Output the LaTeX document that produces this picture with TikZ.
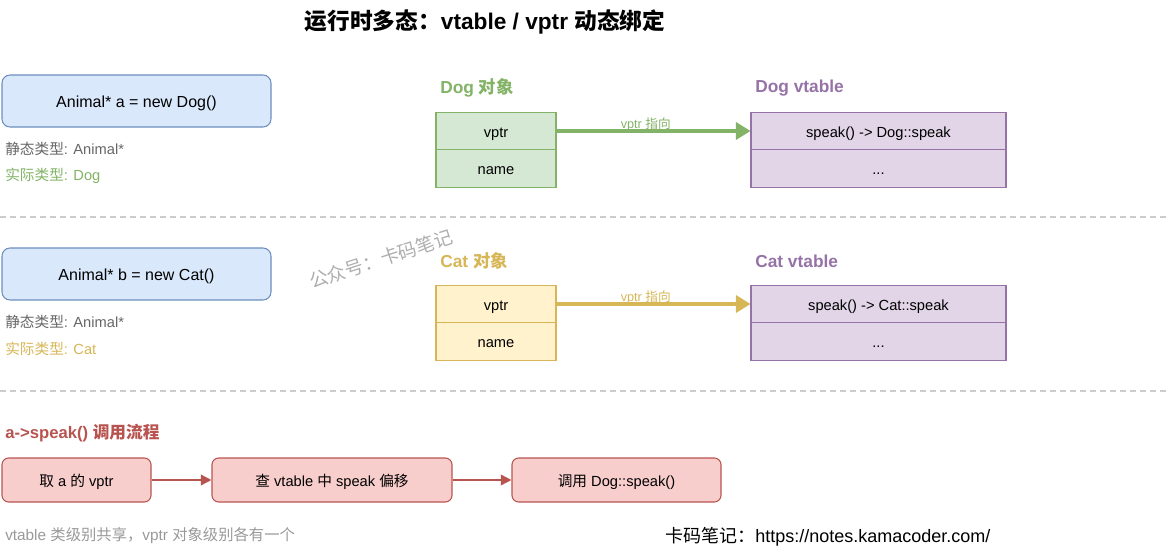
\documentclass[tikz,border=0pt]{standalone}
\usepackage{fontspec}
\setmainfont{Liberation Sans}
\newfontfamily\cjk{Noto Sans CJK SC}
\newcommand\zh[1]{{\cjk #1}}
\usetikzlibrary{arrows.meta}
\definecolor{blueFill}{HTML}{DAE8FC}
\definecolor{blueLine}{HTML}{6C8EBF}
\definecolor{greenFill}{HTML}{D5E8D4}
\definecolor{greenLine}{HTML}{82B366}
\definecolor{yellowFill}{HTML}{FFF2CC}
\definecolor{yellowLine}{HTML}{D6B656}
\definecolor{purpleFill}{HTML}{E1D5E7}
\definecolor{purpleLine}{HTML}{9673A6}
\definecolor{redFill}{HTML}{F8CECC}
\definecolor{redLine}{HTML}{B85450}
\definecolor{sepGray}{HTML}{CCCCCC}
\definecolor{noteGray}{HTML}{666666}
\definecolor{footGray}{HTML}{999999}
\begin{document}
\begin{tikzpicture}[x=0.75pt,y=-0.75pt,
    declbox/.style={draw=blueLine, fill=blueFill, rounded corners=6pt, line width=0.8pt,
      minimum width=201.75pt, minimum height=39pt, text height=0.95em, text depth=0.05em,
      font=\fontsize{12}{14}\selectfont},
    rowcell/.style={draw=#1Line, fill=#1Fill, line width=0.8pt, inner sep=0pt,
      minimum height=28.125pt, text height=0.95em, text depth=0.05em,
      font=\fontsize{11}{13}\selectfont},
    typenote/.style={anchor=west, inner sep=0pt, font=\fontsize{11}{13}\selectfont},
    headlabel/.style={anchor=west, inner sep=0pt, font=\fontsize{13}{15}\selectfont\bfseries},
    flowbox/.style={draw=redLine, fill=redFill, rounded corners=5pt, line width=0.8pt,
      minimum height=33pt, text height=0.95em, text depth=0.05em,
      font=\fontsize{11}{13}\selectfont},
    ptrarrow/.style={line width=2.3pt, -{Triangle[length=11pt,width=13pt]}},
    flowarrow/.style={draw=redLine, line width=1.1pt, -{Triangle[length=8pt,width=8pt]}},
    sepline/.style={draw=sepGray, line width=0.8pt, dash pattern=on 4.5pt off 3pt}]
  \useasboundingbox (0,0) rectangle (1175,550);

  % title
  \node (title) at (485,22) {\fontsize{17}{20}\selectfont\bfseries\zh{运行时多态：}vtable / vptr \zh{动态绑定}};

  % Dog part
  \node[declbox] (decla) at (136.5,101) {Animal* a = new Dog()};
  \node[typenote, text=noteGray] (statica) at (5,149) {\zh{静态类型}: Animal*};
  \node[typenote, text=greenLine] (reala) at (5,176) {\zh{实际类型}: Dog};

  \node[headlabel, text=greenLine] (dogobj) at (440,88) {Dog \zh{对象}};
  \node[rowcell=green, minimum width=90pt] (dogvptr) at (496,131) {vptr};
  \node[rowcell=green, minimum width=90pt] (dogname) at (496,168.5) {name};

  \node[headlabel, text=purpleLine] (dogvt) at (755,88) {Dog vtable};
  \node[rowcell=purple, minimum width=191.25pt] (dogslot) at (878.5,131) {speak() -> Dog::speak};
  \node[rowcell=purple, minimum width=191.25pt] (dogmore) at (878.5,168.5) {...};

  \draw[ptrarrow, greenLine] (dogvptr.east) -- (dogslot.west)
    node[pos=0.46, above, inner sep=1pt, yshift=-2.5pt, font=\fontsize{9.5}{11}\selectfont] {vptr \zh{指向}};

  \draw[sepline] (0,217) -- (1167,217);

  % Cat part
  \node[declbox] (declb) at (136.5,274) {Animal* b = new Cat()};
  \node[typenote, text=noteGray] (staticb) at (5,322) {\zh{静态类型}: Animal*};
  \node[typenote, text=yellowLine] (realb) at (5,349) {\zh{实际类型}: Cat};

  \node[headlabel, text=yellowLine] (catobj) at (440,261) {Cat \zh{对象}};
  \node[rowcell=yellow, minimum width=90pt] (catvptr) at (496,304) {vptr};
  \node[rowcell=yellow, minimum width=90pt] (catname) at (496,341.5) {name};

  \node[headlabel, text=purpleLine] (catvt) at (755,261) {Cat vtable};
  \node[rowcell=purple, minimum width=191.25pt] (catslot) at (878.5,304) {speak() -> Cat::speak};
  \node[rowcell=purple, minimum width=191.25pt] (catmore) at (878.5,341.5) {...};

  \draw[ptrarrow, yellowLine] (catvptr.east) -- (catslot.west)
    node[pos=0.46, above, inner sep=1pt, yshift=-2.5pt, font=\fontsize{9.5}{11}\selectfont] {vptr \zh{指向}};

  \node[rotate=18, text=footGray, opacity=0.8, inner sep=0pt, font=\fontsize{14}{16}\selectfont] (mark) at (381,259) {\zh{公众号：卡码笔记}};

  \draw[sepline] (0,391) -- (1167,391);

  % call flow
  \node[headlabel, text=redLine, font=\fontsize{12.5}{15}\selectfont\bfseries] (flowhead) at (5,433) {a->speak() \zh{调用流程}};
  \node[flowbox, minimum width=111.75pt] (getptr) at (76.5,480) {\zh{取} a \zh{的} vptr};
  \node[flowbox, minimum width=180pt] (lookup) at (332,480) {\zh{查} vtable \zh{中} speak \zh{偏移}};
  \node[flowbox, minimum width=156.75pt] (callfn) at (616.5,480) {\zh{调用} Dog::speak()};
  \draw[flowarrow] (getptr) -- (lookup);
  \draw[flowarrow] (lookup) -- (callfn);

  \node[typenote, text=footGray, font=\fontsize{11.5}{13}\selectfont] (foot) at (5,536) {vtable \zh{类级别共享，}vptr \zh{对象级别各有一个}};
  \node[anchor=west, inner sep=0pt, font=\fontsize{13.5}{16}\selectfont] (site) at (665,537) {\zh{卡码笔记：}https://notes.kamacoder.com/};
\end{tikzpicture}
\end{document}
